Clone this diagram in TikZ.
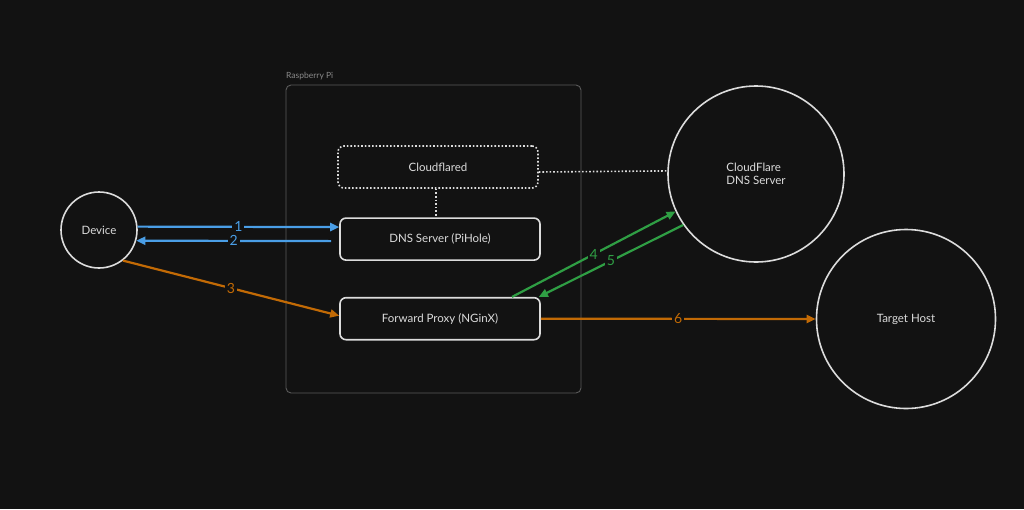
\documentclass[tikz,border=0pt]{standalone}
\usepackage{fontspec}
\setmainfont{Lato}
\usetikzlibrary{positioning,arrows.meta,shapes.geometric}
\definecolor{bgdark}{HTML}{121212}
\definecolor{chalk}{HTML}{DCDCDC}
\definecolor{frame}{HTML}{5A5A5A}
\definecolor{framelabel}{HTML}{8A8A8A}
\definecolor{reqblue}{HTML}{4A9EE6}
\definecolor{reqorange}{HTML}{C26A05}
\definecolor{reqgreen}{HTML}{2F9E44}
\tikzset{
  >={Triangle[length=9pt,width=8pt]},
  service/.style={rectangle, rounded corners=6pt, draw=chalk, line width=1.6pt,
    minimum width=200pt, minimum height=42pt, text=chalk, font=\fontsize{11.5}{13}\selectfont},
  host/.style={circle, draw=chalk, line width=1.6pt, text=chalk,
    font=\fontsize{11.5}{13.5}\selectfont, align=left},
  flow/.style={draw, line width=2.2pt, ->},
  flownum/.style={fill=bgdark, inner sep=2pt, font=\fontsize{14}{16}\selectfont},
}
\begin{document}
\begin{tikzpicture}[x=1pt,y=-1pt]
    \useasboundingbox[fill=bgdark] (0,0) rectangle (1024,509);

    % raspberry pi frame
    \node[draw=frame, line width=0.9pt, rounded corners=5pt, minimum width=295pt,
      minimum height=308pt] (rpi) at (433.5,239) {};
    \node[text=framelabel, font=\fontsize{8.5}{10}\selectfont, anchor=south west,
      inner sep=0pt] (rpilabel) at (286,80) {Raspberry Pi};

    \node[service, dotted] (cloudflared) at (438,167) {Cloudflared};
    \node[service, below=28.5pt of cloudflared.south, anchor=north, xshift=2pt] (pihole) {DNS Server (PiHole)};
    \node[service, below=36pt of pihole.south, anchor=north] (proxy) {Forward Proxy (NGinX)};

    \node[host, minimum size=76pt] (device) at (99,230) {Device};
    \node[host, minimum size=176pt] (cloudns) at (756,174) {CloudFlare\\DNS Server};
    \node[host, minimum size=179pt] (target) at (906,319) {Target Host};

    \path[draw=chalk, line width=1.6pt, dotted] ([yshift=-5pt]cloudflared.east) -- (cloudns.178);
    \path[draw=chalk, line width=1.6pt, dotted] ([xshift=-2pt]cloudflared.south) -- ([xshift=-4pt]pihole.north);

    \path[flow, reqblue] (device.5) -- node[flownum, text=reqblue] {1} ([yshift=12pt]pihole.west);
    \path[flow, reqblue] ([xshift=-8pt,yshift=-2pt]pihole.west) -- node[flownum, text=reqblue] {2} (device.-16);
    \path[flow, reqorange] (device.-52) -- node[flownum, text=reqorange] {3} ([yshift=3pt]proxy.west);
    \path[flow, reqgreen] ([xshift=72pt]proxy.north) -- node[flownum, text=reqgreen] {4} (cloudns.205);
    \path[flow, reqgreen] (cloudns.215) -- node[flownum, text=reqgreen] {5} ([xshift=-2pt]proxy.north east);
    \path[flow, reqorange] (proxy.east) -- node[flownum, text=reqorange] {6} (target.west);

\end{tikzpicture}
\end{document}
